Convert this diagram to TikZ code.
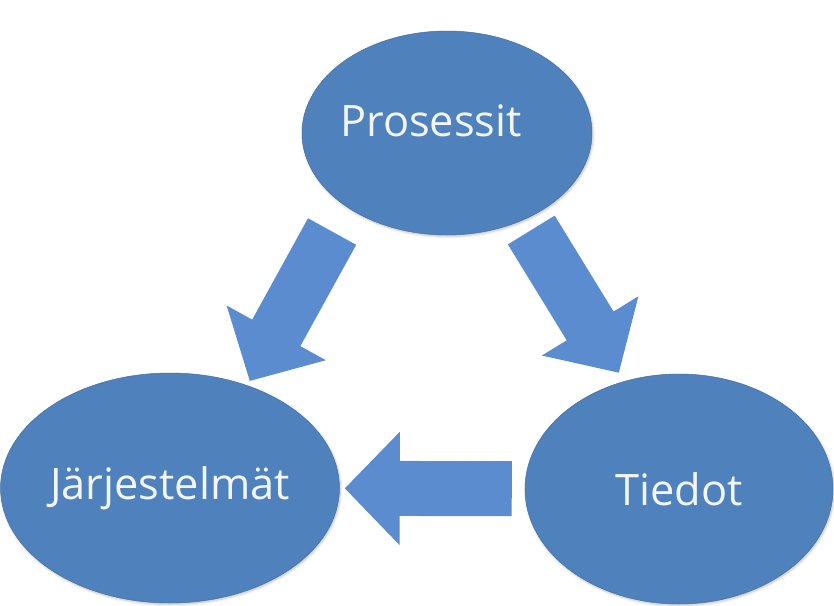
\documentclass[tikz,border=0pt]{standalone}
\usepackage{fontspec}
\setmainfont{Open Sans}
\usepackage{xcolor}
\usepackage{tikz}
\usetikzlibrary{arrows.meta,shapes.geometric,shadows.blur}
\definecolor{bubbleblue}{HTML}{4F81BD}
\definecolor{arrowblue}{HTML}{5A8CCF}
\definecolor{labelwhite}{HTML}{F2F6FB}
\tikzset{
  bubble/.style={ellipse,draw=bubbleblue!85!black,thin,fill=bubbleblue,inner sep=0pt,
                 font=\fontsize{37}{44}\selectfont,text=labelwhite,
                 blur shadow={shadow blur steps=6,shadow xshift=.8pt,shadow yshift=-1.2pt,
                              shadow opacity=25}},
  bubbletext/.style={font=\fontsize{37}{44}\selectfont,text=labelwhite},
  bigarrow/.style={-{Triangle[length=1.65cm,width=3.3cm]},line width=1.65cm,draw=arrowblue}
}
\begin{document}
\begin{tikzpicture}[x=0.03cm,y=-0.03cm]
  \useasboundingbox (0,0) rectangle (834,605);
  \node[bubble,minimum width=8.7cm,minimum height=6.12cm,
        label={[bubbletext,xshift=-0.48cm,yshift=0.36cm]center:Prosessit}] (pros) at (447,133) {};
  \node[bubble,minimum width=10.02cm,minimum height=6.9cm] (jarj) at (170,488) {Järjestelmät};
  \node[bubble,minimum width=9.24cm,minimum height=6.9cm] (tied) at (679,489) {Tiedot};
  \draw[bigarrow,shorten <=0.86cm,shorten >=0.15cm] (pros.216) -- (jarj.53);
  \draw[bigarrow,shorten <=0.375cm,shorten >=0.3cm] (pros.312) -- (tied.117);
  \draw[bigarrow,shorten <=0.39cm,shorten >=0.15cm] (tied) -- (jarj);
\end{tikzpicture}
\end{document}
